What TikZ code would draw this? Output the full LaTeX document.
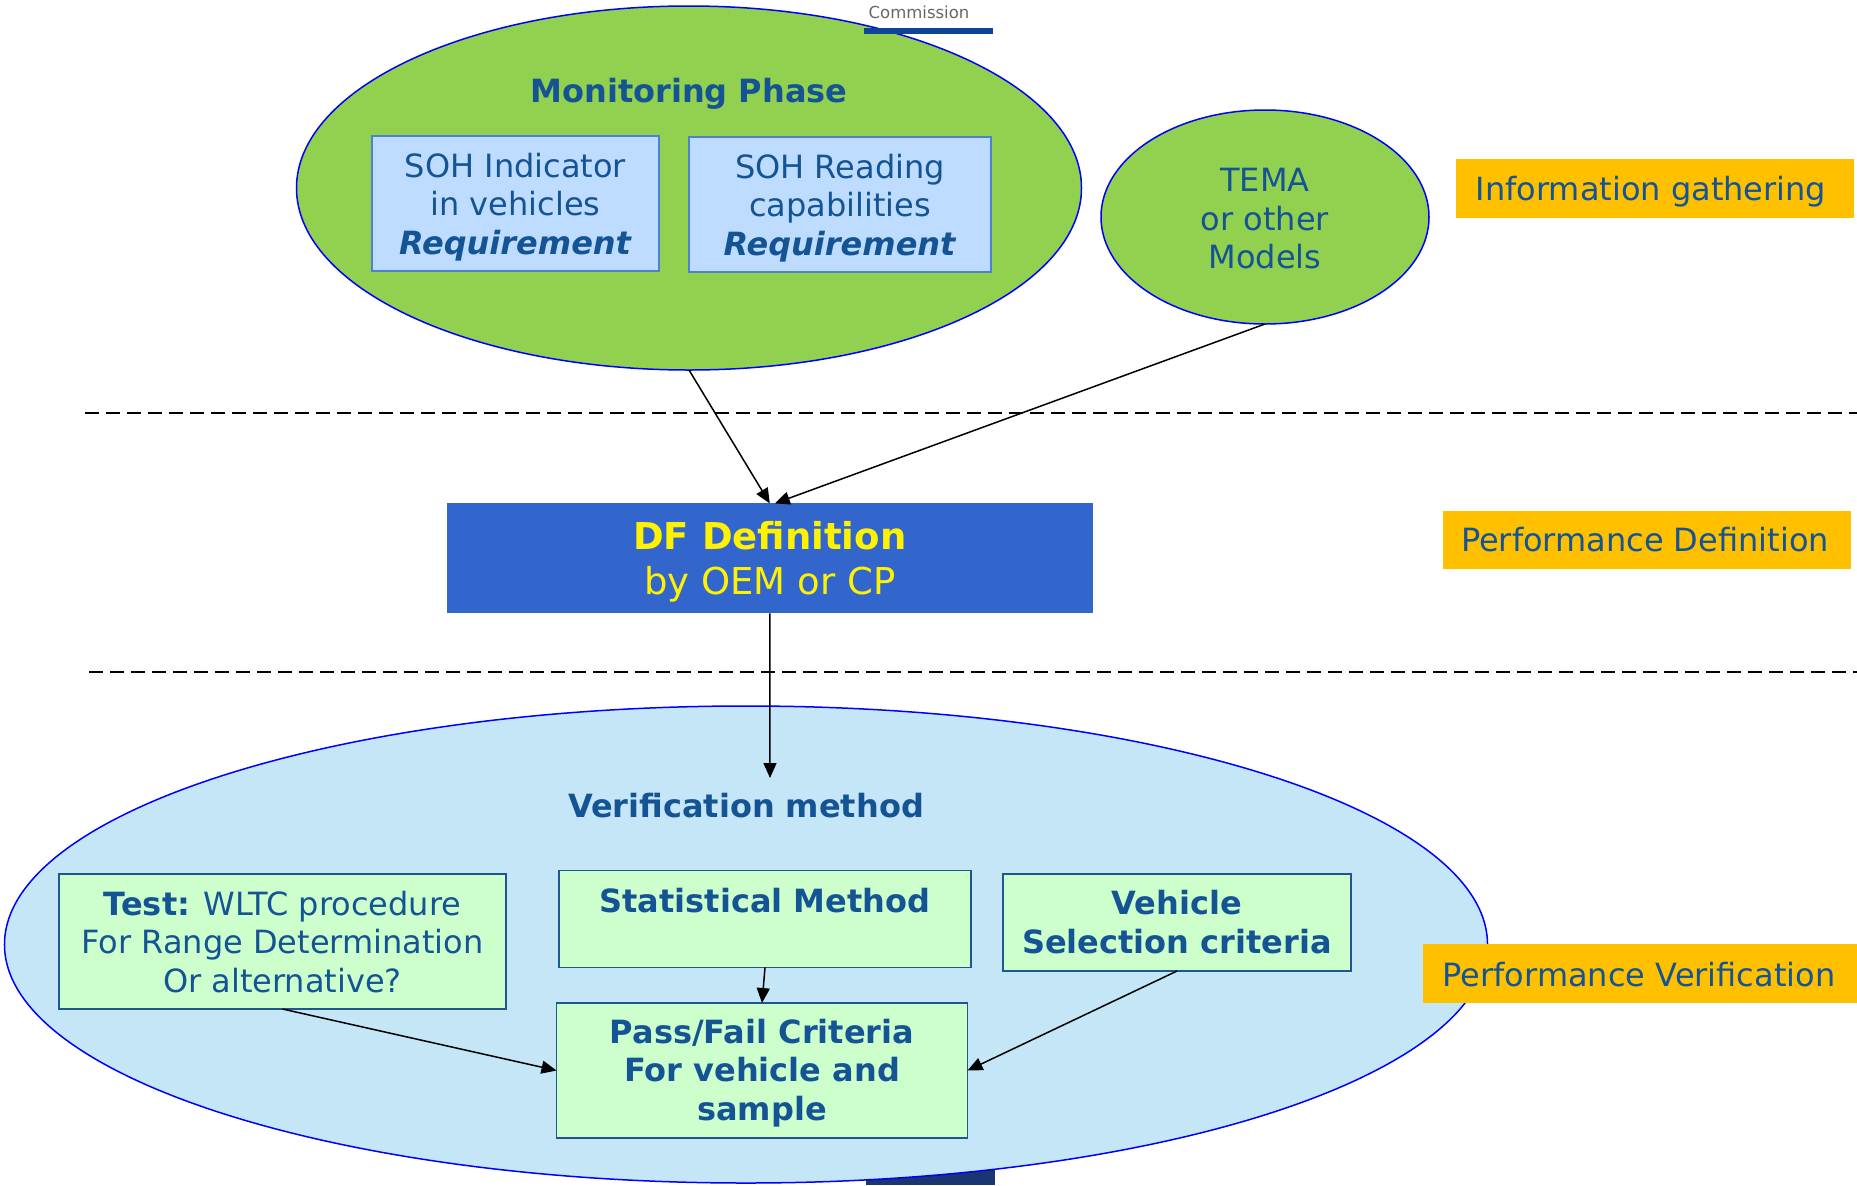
\documentclass[tikz,border=0pt]{standalone}
\usepackage{fontspec}
\setmainfont{DejaVu Sans}
\usetikzlibrary{shapes.geometric,arrows.meta,calc}
\definecolor{txt}{RGB}{20,84,148}
\definecolor{grn}{RGB}{146,208,80}
\definecolor{lb}{RGB}{189,220,255}
\definecolor{lbb}{RGB}{79,129,210}
\definecolor{vb}{RGB}{197,230,246}
\definecolor{gb}{RGB}{204,255,204}
\definecolor{gbb}{RGB}{31,85,145}
\definecolor{dfb}{RGB}{51,102,204}
\definecolor{org}{RGB}{255,192,0}
\definecolor{navy}{RGB}{26,53,112}
\definecolor{barblue}{RGB}{14,69,150}
\begin{document}
\begin{tikzpicture}[x=1bp,y=-1bp,
  every node/.style={inner sep=0pt, outer sep=0pt},
  txtf/.style={font=\fontsize{32bp}{38.5bp}\selectfont, text=txt, align=center},
  phase/.style={ellipse, draw=blue, line width=1.5bp, fill=grn},
  reqbox/.style={rectangle, draw=lbb, line width=1.5bp, fill=lb, txtf},
  grnbox/.style={rectangle, draw=gbb, line width=1.5bp, fill=gb, txtf},
  lab/.style={rectangle, fill=org, txtf},
  arr/.style={-{Triangle[length=15bp,width=13bp]}, line width=1.5bp},
  sepline/.style={dash pattern=on 14bp off 7bp, line width=2bp}
]
\useasboundingbox (0,0) rectangle (1857,1185);
% bottom logo bar (behind ellipse)
\fill[navy] (866,1169) rectangle (995,1185);
% verification ellipse
\node[phase, fill=vb, minimum width=1483bp, minimum height=477bp] (verif) at (746,944.5) {};
% monitoring ellipse
\node[phase, minimum width=785bp, minimum height=364bp] (mon) at (689,188) {};
% top logo
\node[font=\fontsize{16.5bp}{19bp}\selectfont, text=black!60] (comm) at (919,12) {Commission};
\fill[barblue] (864,28) rectangle (993,34);
% dashed separators
\draw[sepline] (85,413) -- (1857,413);
\draw[sepline] (89,671.5) -- (1857,671.5);
% top part
\node[txtf, font=\fontsize{32bp}{38.5bp}\selectfont\bfseries] (montitle) at (689,94) {Monitoring Phase};
\node[reqbox, minimum width=287bp, minimum height=135bp] (soh1) at (515.5,203.5) {};
\node[txtf] (soh1t) at (515.5,207) {SOH Indicator\\in vehicles\\\textbf{\textit{Requirement}}};
\node[reqbox, minimum width=302bp, minimum height=135bp] (soh2) at (840,204.5) {};
\node[txtf] (soh2t) at (840,208) {SOH Reading\\capabilities\\\textbf{\textit{Requirement}}};
\node[phase, minimum width=328bp, minimum height=214bp] (tema) at (1265,217) {};
\node[txtf] (temat) at (1265,219) {TEMA\\or other\\Models};
\node[lab, minimum width=398bp, minimum height=59bp] (info) at (1654.5,188.3) {};
\node[txtf] (infot) at (1651,192) {Information gathering};
% middle
\node[rectangle, fill=dfb, minimum width=646.5bp, minimum height=110bp] (df) at (769.8,558.4) {};
\node[font=\fontsize{37bp}{45bp}\selectfont, text=yellow, align=center] (dft) at (769.8,562) {\textbf{DF Definition}\\by OEM or CP};
\node[lab, minimum width=408.5bp, minimum height=58bp] (perfdef) at (1646.8,539.5) {};
\node[txtf] (perfdeft) at (1645,540) {Performance Definition};
% bottom
\node[txtf, font=\fontsize{32bp}{38.5bp}\selectfont\bfseries] (vtitle) at (746,806) {Verification method};
\coordinate (vtop) at (770,778);
\node[grnbox, minimum width=447bp, minimum height=135bp] (test) at (282.5,941.5) {};
\node[txtf] (testt) at (282.5,942) {\textbf{Test:} WLTC procedure\\For Range Determination\\Or alternative?};
\node[grnbox, minimum width=412bp, minimum height=97bp] (stat) at (765,919) {};
\node[txtf, font=\fontsize{32bp}{38.5bp}\selectfont\bfseries] (statt) at (765,901) {Statistical Method};
\node[grnbox, minimum width=348bp, minimum height=97bp] (veh) at (1177,922.5) {};
\node[txtf, font=\fontsize{32bp}{38.5bp}\selectfont\bfseries] (veht) at (1177,922) {Vehicle\\Selection criteria};
\node[grnbox, minimum width=411bp, minimum height=135bp] (pf) at (762,1070.5) {};
\node[txtf, font=\fontsize{32bp}{38.5bp}\selectfont\bfseries] (pft) at (762,1073) {Pass/Fail Criteria\\For vehicle and\\sample};
\node[lab, minimum width=433.5bp, minimum height=59bp] (perfver) at (1640,973.5) {};
\node[txtf] (perfvert) at (1639,975) {Performance Verification};
% connectors
\draw[arr] (mon.south) -- (df.north);
\draw[arr] (tema.south) -- ($(df.north)+(5,0)$);
\draw[arr] (df.south) -- (vtop);
\draw[arr] (test.south) -- (pf.west);
\draw[arr] (stat.south) -- (pf.north);
\draw[arr] (veh.south) -- (pf.east);
\end{tikzpicture}
\end{document}
